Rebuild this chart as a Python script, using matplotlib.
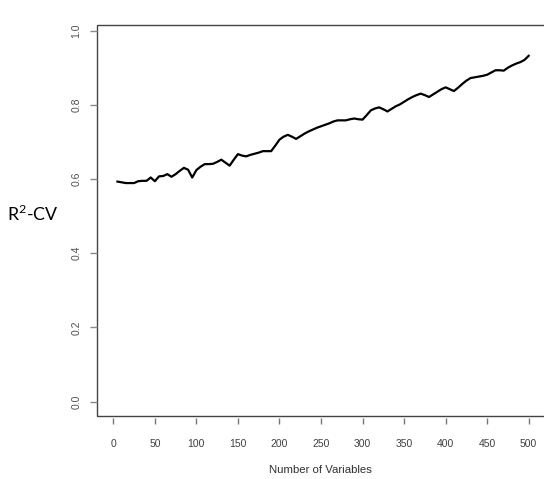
import matplotlib
matplotlib.use("Agg")
import matplotlib.pyplot as plt
from matplotlib.patches import Rectangle

# cross-validated R^2 against the number of variables kept
n_vars = [5, 10, 15, 20, 25, 30, 35, 40, 45, 50,
          55, 60, 65, 70, 75, 80, 85, 90, 95, 100,
          105, 110, 115, 120, 125, 130, 135, 140, 145, 150,
          155, 160, 165, 170, 175, 180, 185, 190, 195, 200,
          205, 210, 215, 220, 225, 230, 235, 240, 245, 250,
          255, 260, 265, 270, 275, 280, 285, 290, 295, 300,
          305, 310, 315, 320, 325, 330, 335, 340, 345, 350,
          355, 360, 365, 370, 375, 380, 385, 390, 395, 400,
          405, 410, 415, 420, 425, 430, 435, 440, 445, 450,
          455, 460, 465, 470, 475, 480, 485, 490, 495, 500]
r2_cv = [0.593, 0.591, 0.589, 0.589, 0.589, 0.594, 0.595, 0.595, 0.604, 0.594,
         0.607, 0.608, 0.613, 0.606, 0.613, 0.622, 0.630, 0.625, 0.604, 0.624,
         0.633, 0.640, 0.640, 0.641, 0.646, 0.652, 0.644, 0.636, 0.652, 0.667,
         0.663, 0.661, 0.665, 0.668, 0.671, 0.675, 0.675, 0.675, 0.690, 0.706,
         0.714, 0.719, 0.714, 0.708, 0.715, 0.722, 0.728, 0.733, 0.738, 0.742,
         0.746, 0.750, 0.755, 0.758, 0.758, 0.758, 0.761, 0.763, 0.761, 0.760,
         0.772, 0.785, 0.790, 0.793, 0.788, 0.782, 0.789, 0.796, 0.801, 0.808,
         0.815, 0.821, 0.826, 0.830, 0.826, 0.821, 0.828, 0.835, 0.842, 0.847,
         0.842, 0.837, 0.846, 0.856, 0.865, 0.872, 0.874, 0.876, 0.878, 0.881,
         0.887, 0.893, 0.893, 0.892, 0.900, 0.906, 0.911, 0.915, 0.921, 0.932]

x_ticks = [0, 50, 100, 150, 200, 250, 300, 350, 400, 450, 500]
y_ticks = [0.0, 0.2, 0.4, 0.6, 0.8, 1.0]

plt.rcParams["mathtext.fontset"] = "custom"
plt.rcParams["mathtext.rm"] = "Lato"

W, H = 544, 479
fig = plt.figure(figsize=(W / 100, H / 100), dpi=100)

# plot region in pixels (right edge runs just past the figure)
left, right, top, bottom = 96.7, 545.3, 25.0, 415.7
ax = fig.add_axes([left / W, 1 - bottom / H, (right - left) / W, (bottom - top) / H])

ax.plot(n_vars, r2_cv, color="black", lw=1.6)

ax.set_xlim(-20, 520)
ax.set_ylim(-0.038, 1.015)

# box drawn by hand, spines only carry the ticks
for s in ax.spines.values():
    s.set_visible(False)
ax.spines["bottom"].set_position(("outward", 1.5))
ax.add_patch(Rectangle((0, 0), 1, 1, transform=ax.transAxes, fill=False,
                       edgecolor="#444444", lw=1.0, clip_on=False))

ax.set_xticks(x_ticks)
ax.set_xticklabels([str(v) for v in x_ticks])
ax.set_yticks(y_ticks)
ax.set_yticklabels([f"{v:.1f}" for v in y_ticks], rotation=90, va="center")

ax.tick_params(axis="x", direction="out", length=4.3, width=1.0, color="#777777",
               labelsize=7.5, labelcolor="#404040", pad=11)
ax.tick_params(axis="y", direction="out", length=5.0, width=1.0, color="#888888",
               labelsize=7.5, labelcolor="#505050", pad=6)
for lab in ax.get_xticklabels() + ax.get_yticklabels():
    lab.set_family("Liberation Sans")

fig.text(320 / W, 1 - 470 / H, "Number of Variables", ha="center", va="center",
         fontsize=8.2, color="#303030", family="Liberation Sans")
fig.text(32.5 / W, 1 - 214 / H, r"R$^{\mathrm{2}}$-CV", ha="center", va="center",
         fontsize=12.8, color="black", family="Lato")

fig.savefig("out.png", dpi=100)
